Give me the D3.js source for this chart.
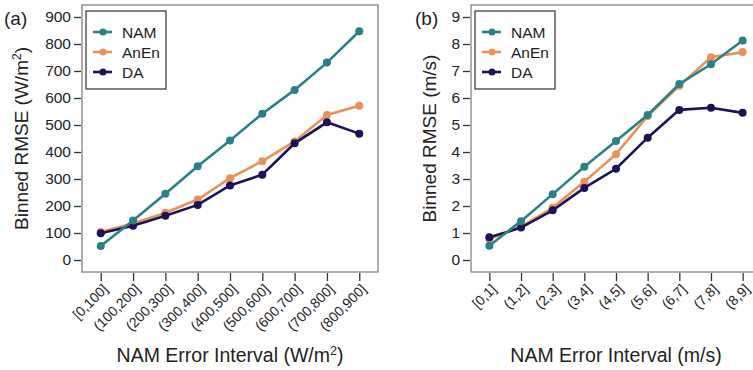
<!DOCTYPE html>
<html>
<head>
<meta charset="utf-8">
<script src="https://cdn.jsdelivr.net/npm/d3@7"></script>
<style>
  body { margin: 0; background: #fff; }
  svg { font-family: "Liberation Sans", Arial, sans-serif; }
</style>
</head>
<body>
<div id="chart"></div>
<script>
// panel (a): irradiance
const solarBins = ["[0,100]", "(100,200]", "(200,300]", "(300,400]", "(400,500]", "(500,600]", "(600,700]", "(700,800]", "(800,900]"];
const solarNAM  = [52, 146, 245, 347, 443, 542, 630, 731, 847];
const solarAnEn = [104, 135, 175, 224, 303, 366, 439, 537, 571];
const solarDA   = [99, 127, 164, 204, 276, 316, 432, 510, 468];
const solarTicks = [0, 100, 200, 300, 400, 500, 600, 700, 800, 900];

// panel (b): wind speed
const windBins = ["[0,1]", "(1,2]", "(2,3]", "(3,4]", "(4,5]", "(5,6]", "(6,7]", "(7,8]", "(8,9]"];
const windNAM  = [0.53, 1.44, 2.44, 3.45, 4.41, 5.37, 6.52, 7.25, 8.13];
const windAnEn = [0.78, 1.23, 1.94, 2.90, 3.92, 5.33, 6.45, 7.51, 7.70];
const windDA   = [0.84, 1.20, 1.84, 2.67, 3.38, 4.53, 5.56, 5.64, 5.45];
const windTicks = [0, 1, 2, 3, 4, 5, 6, 7, 8, 9];

const seriesNames = ["NAM", "AnEn", "DA"];
const colors = {NAM: "#2a8087", AnEn: "#e8925a", DA: "#1d1157"};

const svg = d3.select("#chart")
  .append("svg")
    .attr("width", 753)
    .attr("height", 370);

function drawPanel(opt) {
  const box = opt.box;
  const g = svg.append("g");

  const x = d3.scalePoint()
    .domain(opt.bins)
    .range([box.left, box.right])
    .padding(0.58);

  const y = d3.scaleLinear()
    .domain(opt.yDomain)
    .range([box.bottom, box.top]);

  // y axis
  const yAxis = g.append("g")
    .attr("transform", `translate(${box.left - 1},0)`)
    .call(d3.axisLeft(y).tickValues(opt.yTicks).tickSize(7).tickPadding(3).tickSizeOuter(0));
  yAxis.select(".domain").remove();
  yAxis.selectAll("line").attr("stroke", "#333").attr("stroke-width", 1.3);
  yAxis.selectAll("text").attr("font-size", 15.5).attr("fill", "#222").attr("font-family", "Liberation Sans, Arial, sans-serif");

  // x axis
  const xAxis = g.append("g")
    .attr("transform", `translate(0,${box.bottom + 1})`)
    .call(d3.axisBottom(x).tickSize(8).tickSizeOuter(0));
  xAxis.select(".domain").remove();
  xAxis.selectAll("line").attr("stroke", "#333").attr("stroke-width", 1.3);
  xAxis.selectAll("text")
    .attr("font-size", 14)
    .attr("fill", "#222")
    .attr("font-family", "Liberation Sans, Arial, sans-serif")
    .attr("text-anchor", "end")
    .attr("dy", null)
    .attr("y", 0)
    .attr("transform", "translate(7.5,17) rotate(-45)");

  // series
  const sets = {NAM: opt.nam, AnEn: opt.anen, DA: opt.da};
  ["AnEn", "DA", "NAM"].forEach(name => {
    const data = opt.bins.map((b, i) => ({bin: b, value: sets[name][i]}));
    g.append("path")
      .datum(data)
      .attr("fill", "none")
      .attr("stroke", colors[name])
      .attr("stroke-width", 2.6)
      .attr("d", d3.line().x(d => x(d.bin)).y(d => y(d.value)));
    g.append("g")
      .selectAll("circle")
      .data(data)
      .join("circle")
        .attr("cx", d => x(d.bin))
        .attr("cy", d => y(d.value))
        .attr("r", 4)
        .attr("fill", colors[name]);
  });

  // frame
  g.append("rect")
    .attr("x", box.left)
    .attr("y", box.top)
    .attr("width", box.right - box.left)
    .attr("height", box.bottom - box.top)
    .attr("fill", "none")
    .attr("stroke", "#777")
    .attr("stroke-width", 1.2);

  // legend
  const lg = g.append("g").attr("transform", `translate(${box.left + 4},${box.top + 6})`);
  lg.append("rect")
    .attr("width", 80)
    .attr("height", 78)
    .attr("fill", "#fff")
    .attr("stroke", "#333")
    .attr("stroke-width", 1.2);
  seriesNames.forEach((name, i) => {
    const cy = 21 + i * 20;
    lg.append("line")
      .attr("x1", 7).attr("x2", 26)
      .attr("y1", cy).attr("y2", cy)
      .attr("stroke", colors[name])
      .attr("stroke-width", 2.6);
    lg.append("circle")
      .attr("cx", 17).attr("cy", cy).attr("r", 3.5)
      .attr("fill", colors[name]);
    lg.append("text")
      .attr("x", 36).attr("y", cy + 5.5)
      .attr("font-size", 15.5)
      .attr("fill", "#222")
      .text(name);
  });

  // panel letter
  g.append("text")
    .attr("x", opt.letterX)
    .attr("y", 25)
    .attr("font-size", 19)
    .attr("fill", "#222")
    .text(opt.letter);

  // y title
  const yt = g.append("text")
    .attr("transform", `translate(${opt.yTitleX},${(box.top + box.bottom) / 2}) rotate(-90)`)
    .attr("text-anchor", "middle")
    .attr("font-size", 19)
    .attr("fill", "#222");
  yt.append("tspan").text(opt.yTitle[0]);
  if (opt.yTitle.length > 1) {
    yt.append("tspan").attr("font-size", 12).attr("dy", -7).text(opt.yTitle[1]);
    yt.append("tspan").attr("dy", 7).text(opt.yTitle[2]);
  }

  // x title
  const xt = g.append("text")
    .attr("x", (box.left + box.right) / 2)
    .attr("y", 362)
    .attr("text-anchor", "middle")
    .attr("font-size", 19.5)
    .attr("fill", "#222");
  xt.append("tspan").text(opt.xTitle[0]);
  if (opt.xTitle.length > 1) {
    xt.append("tspan").attr("font-size", 12.5).attr("dy", -7.5).text(opt.xTitle[1]);
    xt.append("tspan").attr("dy", 7.5).text(opt.xTitle[2]);
  }
}

drawPanel({
  box: {left: 82, right: 378, top: 5, bottom: 272},
  bins: solarBins, nam: solarNAM, anen: solarAnEn, da: solarDA,
  yTicks: solarTicks, yDomain: [-44.4, 944.4],
  letter: "(a)", letterX: 4, yTitleX: 28,
  yTitle: ["Binned RMSE (W/m", "2", ")"],
  xTitle: ["NAM Error Interval (W/m", "2", ")"]
});

drawPanel({
  box: {left: 471, right: 761, top: 5, bottom: 272},
  bins: windBins, nam: windNAM, anen: windAnEn, da: windDA,
  yTicks: windTicks, yDomain: [-0.444, 9.444],
  letter: "(b)", letterX: 415, yTitleX: 436,
  yTitle: ["Binned RMSE (m/s)"],
  xTitle: ["NAM Error Interval (m/s)"]
});
</script>
</body>
</html>
